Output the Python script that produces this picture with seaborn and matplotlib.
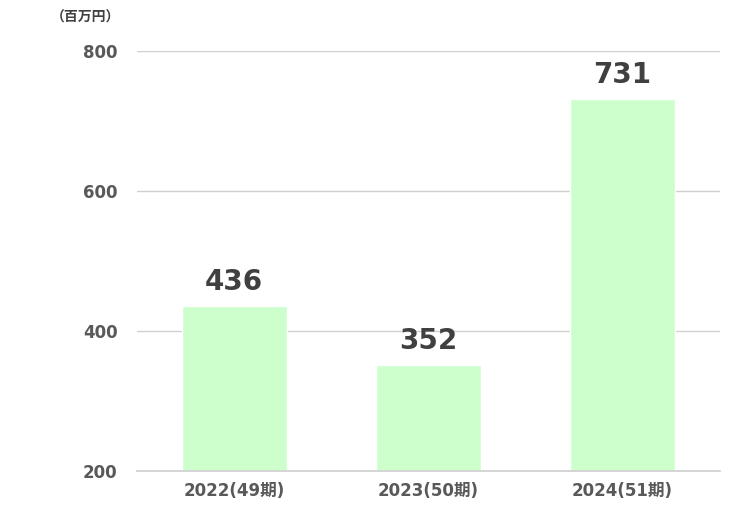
import matplotlib
matplotlib.use("Agg")
import matplotlib.pyplot as plt
import seaborn as sns
import pandas as pd

categories = ["2022(49期)", "2023(50期)", "2024(51期)"]
values = [436, 352, 731]
yticks = [200, 400, 600, 800]

sns.set_theme(style="white")
plt.rcParams['font.family'] = ['DejaVu Sans', 'Noto Sans CJK JP']

df = pd.DataFrame({"cat": categories, "val": values})
fig = plt.figure(figsize=(7.45, 5.25), dpi=100)
ax = fig.add_axes([0.184, 0.103, 0.782, 0.800])
sns.barplot(data=df, x="cat", y="val", color="#ccffcc", saturation=1, width=0.54, ax=ax)
ax.set_ylim(200, 800)
ax.set_yticks(yticks)
ax.set_xlim(-0.5, 2.5)
ax.yaxis.grid(True, color="#d0d0d0", linewidth=1)
ax.set_axisbelow(True)
for s in ["top", "right", "left"]:
    ax.spines[s].set_visible(False)
ax.spines["bottom"].set_color("#d0d0d0")
ax.set_xlabel("")
ax.set_ylabel("")
ax.tick_params(axis="both", length=0, labelsize=12, labelcolor="#595959", pad=8)
ax.tick_params(axis="y", pad=14)
for lbl in ax.get_xticklabels() + ax.get_yticklabels():
    lbl.set_fontweight("bold")
for i, v in enumerate(values):
    ax.text(i, v + 14, str(v), ha="center", va="bottom", fontsize=20,
            fontweight="bold", color="#404040")
fig.text(85/745, 1 - 18/525, "（百万円）", ha="center", va="center",
         fontsize=10, fontweight="bold", color="#404040",
         family=['Noto Sans CJK JP', 'DejaVu Sans'])
fig.savefig("out.png", dpi=100)
